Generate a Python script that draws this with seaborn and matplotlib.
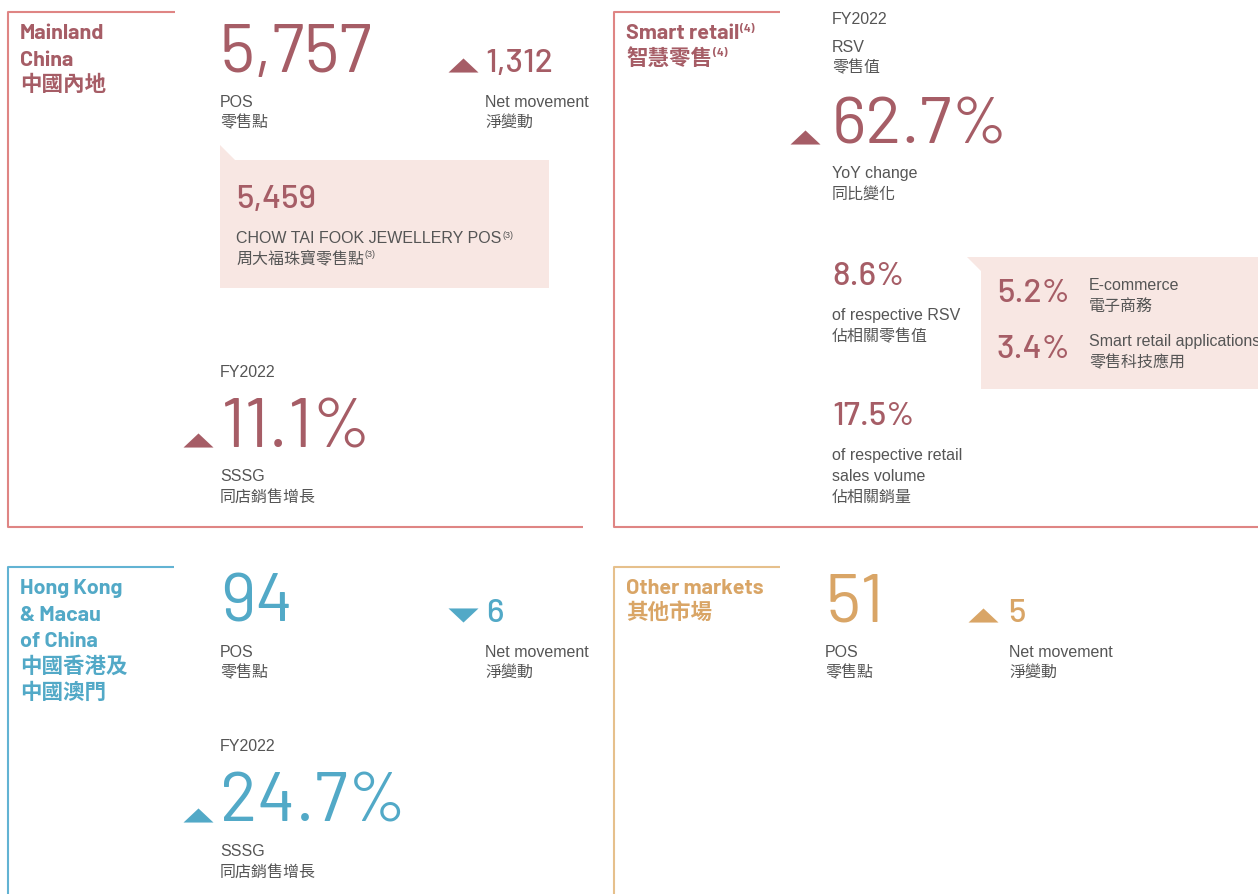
import matplotlib
matplotlib.use("Agg")
import matplotlib.pyplot as plt
from matplotlib import font_manager
import seaborn as sns

# ---- data ----
pos_count = [5757, 94, 51]            # Mainland, HK & Macau, Other markets
net_movement = [1312, -6, 5]
sssg_fy2022 = [11.1, 24.7]            # Mainland, HK & Macau
ctf_jewellery_pos = 5459
rsv_yoy = 62.7
share_of_rsv = 8.6
rsv_split = [5.2, 3.4]
rsv_split_en = ["E-commerce", "Smart retail applications"]
rsv_split_zh = ["電子商務", "零售科技應用"]
share_of_volume = 17.5

MAUVE = "#a65d66"
BLUE = "#52a9c7"
GOLD = "#d9a566"
LINE_RED = "#df8584"
LINE_BLUE = "#62b3d3"
LINE_GOLD = "#e6c08c"
PINK = "#f8e7e3"
GRAY = "#555555"

sns.set_theme(style="white")
installed = {f.name for f in font_manager.fontManager.ttflist}
NUM = "Barlow" if "Barlow" in installed else "Liberation Sans"
TXT = ["Liberation Sans", "Noto Sans CJK TC"]
HEAD = [NUM, "Noto Sans CJK TC"]
plt.rcParams["font.family"] = TXT

fig = plt.figure(figsize=(12.58, 8.94), dpi=100)
ax = fig.add_axes([0, 0, 1, 1])
ax.set_xlim(0, 1258)
ax.set_ylim(894, 0)
ax.axis("off")


def txt(x, y, s, size=11.5, color=GRAY, sup=None):
    t = ax.text(x, y, s, fontsize=size, color=color, va="baseline", ha="left",
                family=TXT)
    if sup:
        ax.annotate(sup, xy=(1, 1), xycoords=t, xytext=(0.5, 0),
                    textcoords="offset points", fontsize=6.5,
                    color=color, va="top", ha="left", family=TXT)
    return t


def head(x, y, s, color, sup=None):
    t = ax.text(x, y, s, fontsize=15.5, color=color, va="baseline",
                ha="left", fontweight="bold", family=HEAD)
    if sup:
        ax.annotate(sup, xy=(1, 1), xycoords=t, xytext=(0.5, 0),
                    textcoords="offset points", fontsize=8,
                    color=color, va="top", ha="left", fontweight="bold",
                    family=HEAD)
    return t


def num(x, y, s, size, color, weight="normal"):
    return ax.text(x, y, s, fontsize=size, color=color, va="baseline",
                   ha="left", fontweight=weight, family=NUM)


UP = [(-1, -0.47), (1, -0.47), (0, 0.47)]
DOWN = [(-1, 0.47), (1, 0.47), (0, -0.47)]


def tri(x, y, value, color):
    # markers live in display space, so "up" stays up on the inverted axis
    mk = UP if value >= 0 else DOWN
    sns.scatterplot(x=[x], y=[y], marker=mk, s=466, color=color,
                    linewidth=0, ax=ax, legend=False, zorder=3)


def frame(pts, color):
    xs, ys = zip(*pts)
    ax.plot(xs, ys, color=color, lw=1.5, solid_capstyle="butt")


# ---- frames ----
frame([(175, 12), (8, 12), (8, 527), (583, 527)], LINE_RED)
frame([(780, 12), (614, 12), (614, 527), (1258, 527)], LINE_RED)
frame([(174, 567), (8, 567), (8, 894)], LINE_BLUE)
frame([(780, 567), (614, 567), (614, 894)], LINE_GOLD)

# ---- Mainland China ----
for y, s in zip([39, 66, 91], ["Mainland", "China", "中國內地"]):
    head(20, y, s, MAUVE)
num(220, 72, f"{pos_count[0]:,}", 49, MAUVE)
txt(220, 107, "POS")
txt(220, 127, "零售點")
tri(463, 65, net_movement[0], MAUVE)
num(485, 72, f"{abs(net_movement[0]):,}", 24, MAUVE, "medium")
txt(485, 107, "Net movement")
txt(485, 127, "淨變動")

ax.fill([220, 235, 549, 549, 220], [145, 160, 160, 288, 288],
        color=PINK, lw=0, zorder=0)
num(236, 208, f"{ctf_jewellery_pos:,}", 24, MAUVE, "medium")
txt(236, 243, "CHOW TAI FOOK JEWELLERY POS", sup="(3)")
txt(236, 263, "周大福珠寶零售點", sup="(3)")

txt(220, 377, "FY2022")
tri(198, 440, sssg_fy2022[0], MAUVE)
num(220, 447, f"{sssg_fy2022[0]}%", 50, MAUVE)
txt(220, 481, "SSSG")
txt(220, 502, "同店銷售增長")

# ---- Smart retail ----
head(626, 39, "Smart retail", MAUVE, sup="(4)")
head(626, 65, "智慧零售", MAUVE, sup="(4)")
txt(832, 24, "FY2022")
txt(832, 52, "RSV")
txt(832, 72, "零售值")
tri(805, 137, rsv_yoy, MAUVE)
num(832, 144, f"{rsv_yoy}%", 48, MAUVE)
txt(832, 178, "YoY change")
txt(832, 199, "同比變化")

num(832, 285, f"{share_of_rsv}%", 24, MAUVE, "medium")
txt(832, 320, "of respective RSV")
txt(832, 341, "佔相關零售值")

ax.fill([967, 1258, 1258, 981, 981], [257, 257, 389, 389, 271],
        color=PINK, lw=0, zorder=0)
for i, (v, en, zh) in enumerate(zip(rsv_split, rsv_split_en, rsv_split_zh)):
    dy = 56 * i
    num(997, 302 + dy, f"{v}%", 24, MAUVE, "medium")
    txt(1089, 290 + dy, en)
    txt(1089, 311 + dy, zh)

num(832, 425, f"{share_of_volume}%", 24, MAUVE, "medium")
txt(832, 460, "of respective retail")
txt(832, 481, "sales volume")
txt(832, 502, "佔相關銷量")

# ---- Hong Kong & Macau ----
hk_lines = ["Hong Kong", "& Macau", "of China", "中國香港及", "中國澳門"]
for y, s in zip([594, 621, 647, 673, 699], hk_lines):
    head(20, y, s, BLUE)
num(220, 622, f"{pos_count[1]:,}", 49, BLUE)
txt(220, 657, "POS")
txt(220, 677, "零售點")
tri(463, 615, net_movement[1], BLUE)
num(486, 622, f"{abs(net_movement[1]):,}", 24, BLUE, "medium")
txt(485, 657, "Net movement")
txt(485, 677, "淨變動")
txt(220, 751, "FY2022")
tri(198, 815, sssg_fy2022[1], BLUE)
num(220, 822, f"{sssg_fy2022[1]}%", 50, BLUE)
txt(220, 856, "SSSG")
txt(220, 877, "同店銷售增長")

# ---- Other markets ----
head(626, 594, "Other markets", GOLD)
head(626, 619, "其他市場", GOLD)
num(825, 622, f"{pos_count[2]:,}", 49, GOLD)
txt(825, 657, "POS")
txt(825, 677, "零售點")
tri(983, 615, net_movement[2], GOLD)
num(1008, 622, f"{abs(net_movement[2]):,}", 24, GOLD, "medium")
txt(1009, 657, "Net movement")
txt(1009, 677, "淨變動")

fig.savefig("out.png", dpi=100)
